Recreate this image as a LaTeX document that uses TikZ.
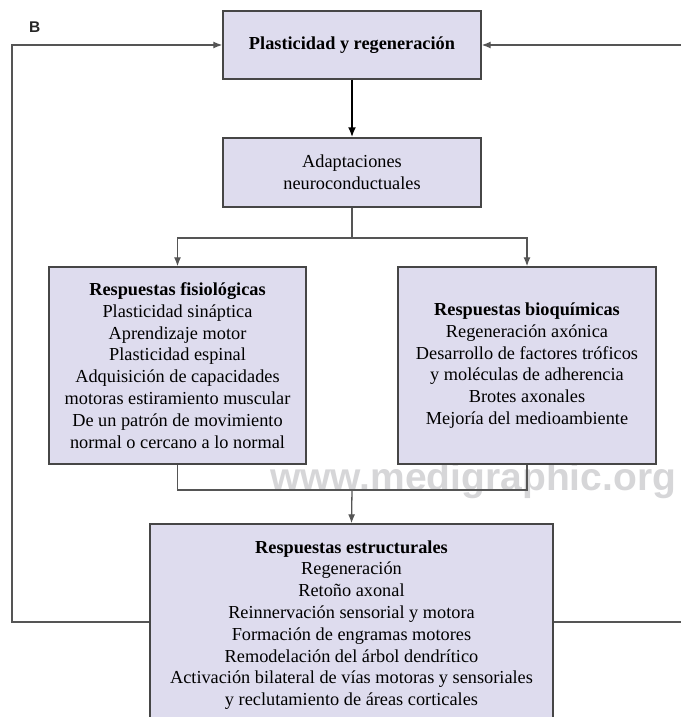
\documentclass[tikz,border=0pt]{standalone}
\usepackage{fontspec}
\setmainfont{Liberation Serif}
\newfontfamily\wmfont{Liberation Sans}
\usetikzlibrary{arrows.meta}
\definecolor{boxfill}{RGB}{222,220,238}
\definecolor{boxline}{RGB}{70,70,70}
\definecolor{connline}{RGB}{85,85,85}
\definecolor{wmgray}{RGB}{214,214,216}
\tikzset{
  boxnode/.style={draw=boxline, line width=1.4pt, fill=boxfill, rectangle, align=center,
    inner sep=0pt, font=\fontsize{18.3}{21.8}\selectfont},
  conn/.style={draw=connline, line width=1.3pt},
  arrowtip/.style={-{Latex[length=9pt,width=7pt]}},
  mainarrow/.style={draw=black, line width=2pt, -{Latex[length=10pt,width=8pt]}}
}
\begin{document}
\begin{tikzpicture}[x=1pt,y=-1pt]
\useasboundingbox (0,0) rectangle (680,717);
% watermark
\node[anchor=base west, inner sep=0pt, text=wmgray, font=\wmfont\bfseries\fontsize{39}{39}\selectfont] (wm) at (270,490) {www.medigraphic.org};
% label
\node[anchor=base west, inner sep=0pt, font=\wmfont\bfseries\fontsize{15.5}{15.5}\selectfont, text=black!85] (lbl) at (29,33) {B};
% boxes
\node[boxnode, minimum width=258pt, minimum height=68pt] (top) at (352,45) {\bfseries Plasticidad y regeneración};
\node[boxnode, minimum width=258pt, minimum height=69pt] (adapt) at (352,172.5) {Adaptaciones\\neuroconductuales};
\node[boxnode, minimum width=257pt, minimum height=197pt] (fis) at (177.5,365.5) {\textbf{Respuestas fisiológicas}\\Plasticidad sináptica\\Aprendizaje motor\\Plasticidad espinal\\Adquisición de capacidades\\motoras estiramiento muscular\\De un patrón de movimiento\\normal o cercano a lo normal};
\node[boxnode, minimum width=258pt, minimum height=197pt] (bio) at (527,365.5) {\textbf{Respuestas bioquímicas}\\Regeneración axónica\\Desarrollo de factores tróficos\\y moléculas de adherencia\\Brotes axonales\\Mejoría del medioambiente};
\node[boxnode, minimum width=403pt, minimum height=202pt] (est) at (351.5,625) {\textbf{Respuestas estructurales}\\Regeneración\\Retoño axonal\\Reinnervación sensorial y motora\\Formación de engramas motores\\Remodelación del árbol dendrítico\\Activación bilateral de vías motoras y sensoriales\\y reclutamiento de áreas corticales};
% coordinates
\coordinate (split) at (352,238);
\coordinate (merge) at (352,490);
\coordinate (lb) at (12,622);
\coordinate (lt) at (12,45);
\coordinate (rb) at (700,622);
\coordinate (rt) at (700,45);
% connectors
\draw[mainarrow] (top.south) -- (adapt.north);
\draw[conn] (adapt.south) -- (split);
\draw[conn, arrowtip] (split) -| (fis.north);
\draw[conn, arrowtip] (split) -| (bio.north);
\draw[conn] (fis.south) |- (merge);
\draw[conn] (bio.south) |- (merge);
\draw[conn, arrowtip] (merge) -- (est.north);
\draw[conn, arrowtip] (est.west |- lb) -- (lb) -- (lt) -- (top.west);
\draw[conn, arrowtip] (est.east |- rb) -- (rb) -- (rt) -- (top.east);
\end{tikzpicture}
\end{document}
